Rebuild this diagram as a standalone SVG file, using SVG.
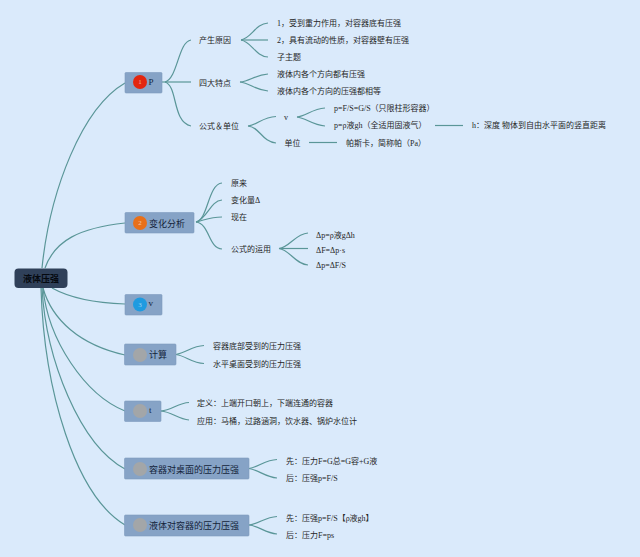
<svg xmlns="http://www.w3.org/2000/svg" width="640" height="557" viewBox="0 0 640 557">
<style>
text{font-family:"Liberation Serif","Noto Sans CJK SC",serif;font-size:8px;fill:#262626;dominant-baseline:central}
.m{font-size:9px;fill:#14233a}
.r{font-size:9px;fill:#05090f;text-anchor:middle;font-weight:700}
.b{font-size:7px;text-anchor:middle}
.n{fill:#86a3c6;stroke:#7d9abd;stroke-width:.6}
.l{fill:none;stroke:#5a9698;stroke-width:1.2}
.g{fill:#a3a6a8}
</style>
<rect width="640" height="557" fill="#daeafb"/>
<g id="connectors">
<path class="l" d="M42 268C50 190 82 108 125 83"/>
<path class="l" d="M45 268C55 240 80 228 125 223"/>
<path class="l" d="M52 288C70 298 95 303 125 304"/>
<path class="l" d="M43 288C52 320 80 345 125 355"/>
<path class="l" d="M43 288C48 340 85 395 125 411"/>
<path class="l" d="M42 288C46 360 80 445 125 469"/>
<path class="l" d="M41 288C44 390 75 495 125 525"/>
<path class="l" d="M165 82C178 78 178 42 191 40"/>
<path class="l" d="M162 82H191"/>
<path class="l" d="M165 82C178 86 172 122 191 126"/>
<path class="l" d="M241 40C252 38 255 24 268 23"/>
<path class="l" d="M241 40H268"/>
<path class="l" d="M241 40C252 42 255 56 268 57"/>
<path class="l" d="M240 82C250 81 255 75 268 74"/>
<path class="l" d="M240 82C250 83 255 90 268 91"/>
<path class="l" d="M248 126C258 125 262 117 276 116.500"/>
<path class="l" d="M248 126C260 127 262 142 276 143"/>
<path class="l" d="M297 117C306 116 312 109 325 108"/>
<path class="l" d="M297 117C306 118 312 125 325 126"/>
<path class="l" d="M435 125.500H463"/>
<path class="l" d="M309 142.500H337"/>
<path class="l" d="M196 222C208 220 208 184 222 183"/>
<path class="l" d="M196 222C208 218 210 201 222 200"/>
<path class="l" d="M196 222C205 220 210 217 222 217"/>
<path class="l" d="M196 222C210 224 208 248 222 249"/>
<path class="l" d="M279 248.500C290 247 295 234 308 233"/>
<path class="l" d="M279 248.500H308"/>
<path class="l" d="M279 248.500C290 250 295 264 308 265"/>
<path class="l" d="M176 354.500C186 353 192 346 204 345.500"/>
<path class="l" d="M176 354.500C186 356 192 363 204 363.500"/>
<path class="l" d="M161 411C172 410 178 403 189 402.500"/>
<path class="l" d="M161 411C172 412 178 419 189 420"/>
<path class="l" d="M249 468.500C259 467 265 460 277 459.500"/>
<path class="l" d="M249 468.500C259 470 265 477 277 478"/>
<path class="l" d="M249 525C259 524 265 517 277 516.500"/>
<path class="l" d="M249 525C259 526 265 533 277 534"/>
</g>
<g id="root"><rect x="14.500" y="268.500" width="53" height="19.500" rx="4" fill="#2f4059"/><text class="r" x="41" y="279">液体压强</text></g>
<g id="n1"><rect class="n" x="125" y="72.500" width="37" height="20.500" rx="1"/><circle cx="140" cy="82" r="7" fill="#e3260f"/><text class="b" x="140" y="82" style="fill:#f4b0a0">1</text><text class="m" x="148.500" y="81.500">P</text></g>
<g id="n1a"><text x="199" y="40">产生原因</text></g>
<g id="n1b"><text x="199" y="83">四大特点</text></g>
<g id="n1c"><text x="199" y="126">公式＆单位</text></g>
<g id="n1a1"><text x="277" y="23.500">1，受到重力作用，对容器底有压强</text></g>
<g id="n1a2"><text x="277" y="40.500">2，具有流动的性质，对容器壁有压强</text></g>
<g id="n1a3"><text x="277" y="57.500">子主题</text></g>
<g id="n1b1"><text x="277" y="74.500">液体内各个方向都有压强</text></g>
<g id="n1b2"><text x="277" y="91.500">液体内各个方向的压强都相等</text></g>
<g id="n1c1"><text x="284" y="117.500">v</text></g>
<g id="n1c2"><text x="284.500" y="143">单位</text></g>
<g id="n1c1a"><text x="334" y="108.500">p=F/S=G/S（只限柱形容器）</text></g>
<g id="n1c1b"><text x="334" y="125.500">p=ρ液gh（全适用固液气）</text></g>
<g id="n1c1b1"><text x="472" y="125.500">h：深度 物体到自由水平面的竖直距离</text></g>
<g id="n1c2a"><text x="346" y="143">帕斯卡，简称帕（Pa）</text></g>
<g id="n2"><rect class="n" x="125" y="212.500" width="69" height="20.500" rx="1"/><circle cx="140" cy="223" r="7" fill="#e8701a"/><text class="b" x="140" y="223" style="fill:#f6c9a0">2</text><text class="m" x="149" y="223.500">变化分析</text></g>
<g id="n2a"><text x="231" y="183">原来</text></g>
<g id="n2b"><text x="231" y="200">变化量Δ</text></g>
<g id="n2c"><text x="231" y="217">现在</text></g>
<g id="n2d"><text x="231" y="249">公式的运用</text></g>
<g id="n2d1"><text x="316" y="235">Δp=ρ液gΔh</text></g>
<g id="n2d2"><text x="316" y="250.500">ΔF=Δp·s</text></g>
<g id="n2d3"><text x="316" y="265">Δp=ΔF/S</text></g>
<g id="n3"><rect class="n" x="125" y="294.500" width="37" height="20.500" rx="1"/><circle cx="140" cy="304.500" r="7" fill="#1f9be0"/><text class="b" x="140" y="304.500" style="fill:#9fd6f5">3</text><text class="m" x="148.500" y="302.500">v</text></g>
<g id="n4"><rect class="n" x="124.500" y="344" width="51.500" height="21" rx="1"/><circle class="g" cx="140" cy="355" r="7"/><text class="m" x="149" y="355">计算</text></g>
<g id="n4a"><text x="213" y="346.500">容器底部受到的压力压强</text></g>
<g id="n4b"><text x="213" y="364">水平桌面受到的压力压强</text></g>
<g id="n5"><rect class="n" x="124.500" y="401" width="36.500" height="20.500" rx="1"/><circle class="g" cx="140" cy="411" r="7"/><text class="m" x="149" y="410">t</text></g>
<g id="n5a"><text x="197" y="403.500">定义：上端开口朝上，下端连通的容器</text></g>
<g id="n5b"><text x="197" y="421">应用：马桶，过路涵洞，饮水器、锅炉水位计</text></g>
<g id="n6"><rect class="n" x="124.500" y="458" width="124.500" height="21" rx="1"/><circle class="g" cx="140" cy="469" r="7"/><text class="m" x="149" y="469.500">容器对桌面的压力压强</text></g>
<g id="n6a"><text x="286" y="461">先：压力F=G总=G容+G液</text></g>
<g id="n6b"><text x="286" y="478">后：压强p=F/S</text></g>
<g id="n7"><rect class="n" x="124.500" y="515" width="124.500" height="21" rx="1"/><circle class="g" cx="140" cy="525" r="7"/><text class="m" x="149" y="526">液体对容器的压力压强</text></g>
<g id="n7a"><text x="286" y="518">先：压强p=F/S【ρ液gh】</text></g>
<g id="n7b"><text x="286" y="535">后：压力F=ps</text></g>
</svg>
